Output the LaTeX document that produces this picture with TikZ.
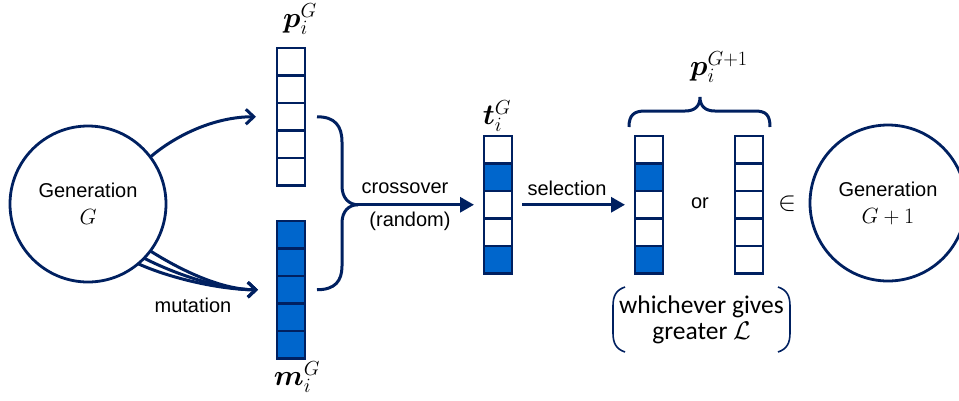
\RequirePackage{fix-cm}
\documentclass[tikz,border=0pt]{standalone}
\usepackage{bm}
\usepackage{fontspec}
\setmainfont{Liberation Sans}
\newfontfamily\notefont{Carlito}
\usetikzlibrary{arrows.meta,calc}
\definecolor{navy}{RGB}{0,32,96}
\definecolor{cellblue}{RGB}{0,102,204}

\begin{document}
\begin{tikzpicture}[x=1pt,y=-1pt,
  every node/.style={inner sep=0pt, outer sep=0pt},
  ring/.style={circle, draw=navy, line width=2.8pt, minimum size=156pt,
    align=center, font=\fontsize{20}{27}\selectfont},
  cell/.style={draw=navy, line width=2.6pt, minimum width=28pt, minimum height=27.5pt},
  on/.style={cell, fill=cellblue},
  off/.style={cell, fill=white},
  flow/.style={draw=navy, line width=3pt},
  barb/.style={flow, -{Straight Barb[length=8pt,width=15pt]}},
  push/.style={flow, -{Triangle[length=14pt,width=15pt]}},
  lbl/.style={font=\fontsize{20}{24}\selectfont},
  vec/.style={font=\fontsize{29}{32}\selectfont},
  note/.style={align=center, font=\notefont\fontsize{25.5}{25.5}\selectfont},
  paren/.style={draw=navy, line width=1.6pt},
]
\useasboundingbox (0,0) rectangle (959,400);

% populations
\node[ring] (gen)  at (88,204)  {Generation\\\fontsize{22}{27}\selectfont$G$};
\node[ring] (next) at (888,203) {Generation\\\fontsize{22}{27}\selectfont$G+1$};

% parent vector p and mutant vector m
\foreach \k in {1,...,5} {
  \node[off] (p\k) at (291,{61.75+27.5*(\k-1)}) {};
  \node[on]  (m\k) at (291,{234.75+27.5*(\k-1)}) {};
}
% trial vector t, the selected copy s and the kept parent r
\foreach \k/\s in {1/off,2/on,3/off,4/off,5/on} {
  \node[\s] (t\k) at (498,{149.75+27.5*(\k-1)}) {};
  \node[\s] (s\k) at (649,{149.75+27.5*(\k-1)}) {};
  \node[off] (r\k) at (749,{149.75+27.5*(\k-1)}) {};
}

% vector labels
\node[vec] (plab) at (300,19)  {$\bm{p}_i^{G}$};
\node[vec] (mlab) at (297,377) {$\bm{m}_i^{G}$};
\node[vec] (tlab) at (497,116) {$\bm{t}_i^{G}$};
\node[vec] (nlab) at (719,67)  {$\bm{p}_i^{G+1}$};

% copy of the parent
\draw[barb] (gen.37) .. controls (176,135) and (215,116.75) .. ([xshift=-21pt]p3.west);

% mutation: three strands merging into one arrow
\draw[barb] (gen.-37) .. controls (182,271) and (222,289.75) .. ([xshift=-19pt]m3.west);
\draw[barb] (gen.-44) .. controls (177,275) and (222,289.75) .. ([xshift=-19pt]m3.west);
\draw[barb] (gen.-50) .. controls (172,279) and (222,289.75) .. ([xshift=-19pt]m3.west);
\node[lbl] (mut) at (193,305) {mutation};

% crossover brace
\coordinate (fork) at (358,204.75);
\draw[flow] ([xshift=12pt]p3.east) .. controls (335,116.75) and (342,126) .. (342,142)
  -- (342,186) .. controls (342,198) and (349,204.75) .. (fork);
\draw[flow] ([xshift=12pt]m3.east) .. controls (335,289.75) and (342,281) .. (342,266)
  -- (342,223) .. controls (342,211) and (349,204.75) .. (fork);
\draw[push] (fork) -- ([xshift=-10pt]t3.west);
\node[lbl] (xo)  at (405,188) {crossover};
\node[lbl] (rnd) at (410,221) {(random)};

% selection
\draw[push] ([xshift=10pt]t3.east) -- ([xshift=-10pt]s3.west);
\node[lbl] (sel) at (567,188) {selection};

\node[lbl] (or) at (700,203) {or};
\node[font=\fontsize{27}{27}\selectfont] (elem) at (787,204) {$\in$};

% brace over both candidates
\draw[flow] (629,127) .. controls (629,115) and (634,111) .. (645,111) -- (685,111)
  .. controls (695,111) and (700,106) .. (700,97)
  .. controls (700,106) and (705,111) .. (715,111) -- (755,111)
  .. controls (766,111) and (770,115) .. (770,127);

% note in round brackets
\node[note] (which) at (701.5,320) {whichever gives\\greater $\mathcal{L}$};
\draw[paren] (625,287) .. controls (616,290) and (613,296) .. (613,306) -- (613,333)
  .. controls (613,343) and (616,349) .. (625,352);
\draw[paren] (778,287) .. controls (787,290) and (790,296) .. (790,306) -- (790,333)
  .. controls (790,343) and (787,349) .. (778,352);
\end{tikzpicture}
\end{document}
